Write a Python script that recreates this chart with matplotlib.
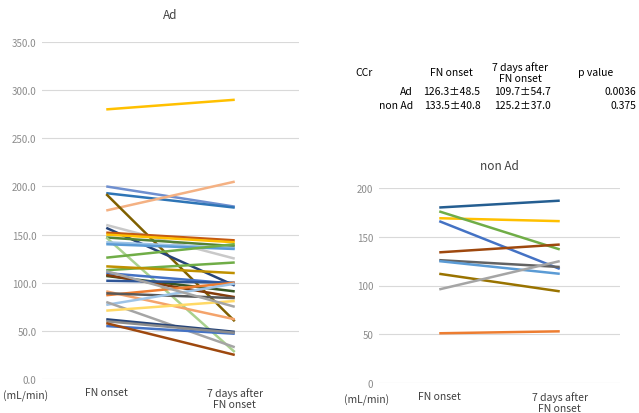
import matplotlib
matplotlib.use("Agg")
import matplotlib.pyplot as plt

plt.rcParams['font.family'] = ['Noto Sans CJK JP', 'DejaVu Sans']

# category labels
cats = ["FN onset", "7 days after\nFN onset"]

# Ad group: (onset, 7 days after), colour
ad_start = [280, 200, 193, 175, 192, 160, 157, 152, 150, 147, 147, 142, 140, 126,
            113, 117, 110, 107, 108, 102, 91, 87, 89, 77, 80, 71, 112, 62, 55, 60, 58]
ad_end = [290, 179, 178, 205, 60, 125, 97, 144, 142, 138, 28, 136, 135, 140,
          121, 110, 99, 91, 85, 100, 62, 100, 84, 99, 33, 81, 75, 49, 47, 48, 25]
ad_colors = ["#FFC000", "#6F8FCF", "#2E75B6", "#F4B183", "#7F6000", "#C9C9C9",
             "#264478", "#C55A11", "#FFC000", "#548235", "#A9D18E", "#9DC3E6",
             "#5B9BD5", "#70AD47", "#70AD47", "#BF9000", "#4472C4", "#375623",
             "#843C0C", "#2E5597", "#F4A36B", "#ED7D31", "#595959", "#9DC3E6",
             "#A5A5A5", "#FFD966", "#A5A5A5", "#264478", "#4472C4", "#8C8C8C",
             "#9E480E"]

# non Ad group
nad_start = [180, 169, 176, 166, 134, 126, 125, 112, 96, 51]
nad_end = [187, 166, 137, 117, 142, 119, 112, 94, 125, 53]
nad_colors = ["#255E91", "#FFC000", "#70AD47", "#4472C4", "#9E480E", "#636363",
              "#5B9BD5", "#997300", "#A5A5A5", "#ED7D31"]

# summary table
tbl_header = ["CCr", "FN onset", "7 days after\nFN onset", "p value"]
tbl_rows = ["Ad", "non Ad"]
tbl_onset = ["126.3\u00b148.5", "133.5\u00b140.8"]
tbl_after = ["109.7\u00b154.7", "125.2\u00b137.0"]
tbl_p = ["0.0036", "0.375"]

grid_c = "#D9D9D9"
tick_c = "#8C8C8C"
txt_c = "#404040"

fig = plt.figure(figsize=(6.39, 4.14), dpi=100)


def style(ax, ymax, step, fmt):
    ax.set_xlim(-0.5, 1.5)
    ax.set_ylim(0, ymax)
    ticks = list(range(0, ymax + 1, step))
    ax.set_yticks(ticks)
    ax.set_yticklabels([fmt % t for t in ticks], color=tick_c, fontsize=7)
    ax.set_xticks([0, 1])
    ax.set_xticklabels(cats, color=txt_c, fontsize=7.5, linespacing=1.1)
    ax.tick_params(length=0, pad=4)
    ax.tick_params(axis="x", pad=6)
    for s in ax.spines.values():
        s.set_visible(False)
    ax.grid(axis="y", color=grid_c, linewidth=0.8)
    ax.set_axisbelow(True)


ax1 = fig.add_axes([42 / 639, 34 / 414, 257 / 639, 337 / 414])
for a, b, c in zip(ad_start, ad_end, ad_colors):
    ax1.plot([0, 1], [a, b], color=c, linewidth=1.8, solid_capstyle="butt")
style(ax1, 350, 50, "%.1f")
ax1.set_title("Ad", fontsize=8.5, color=txt_c, pad=17)
fig.text(26 / 639, 1 - 396 / 414, "(mL/min)", fontsize=7.5, color=txt_c,
         ha="center", va="center")

ax2 = fig.add_axes([379 / 639, 30 / 414, 241 / 639, 195 / 414])
for a, b, c in zip(nad_start, nad_end, nad_colors):
    ax2.plot([0, 1], [a, b], color=c, linewidth=1.8, solid_capstyle="butt")
style(ax2, 200, 50, "%d")
ax2.set_title("non Ad", fontsize=8.5, color=txt_c, pad=14)
fig.text(367 / 639, 1 - 400 / 414, "(mL/min)", fontsize=7.5, color=txt_c,
         ha="center", va="center")

# table text
fs = 7.5
def fy(py):
    return 1 - py / 414

fig.text(364 / 639, fy(73), tbl_header[0], fontsize=fs, ha="center", va="center")
fig.text(451 / 639, fy(73), tbl_header[1], fontsize=fs, ha="center", va="center")
fig.text(520 / 639, fy(73), tbl_header[2], fontsize=fs, ha="center", va="center",
         linespacing=1.05)
fig.text(596 / 639, fy(73), tbl_header[3], fontsize=fs, ha="center", va="center")
for i, r in enumerate(tbl_rows):
    y = fy(92 + i * 14)
    fig.text(413 / 639, y, r, fontsize=fs, ha="right", va="center")
    fig.text(452 / 639, y, tbl_onset[i], fontsize=fs, ha="center", va="center")
    fig.text(522 / 639, y, tbl_after[i], fontsize=fs, ha="center", va="center")
    fig.text(636 / 639, y, tbl_p[i], fontsize=fs, ha="right", va="center")

fig.savefig("out.png", dpi=100)
